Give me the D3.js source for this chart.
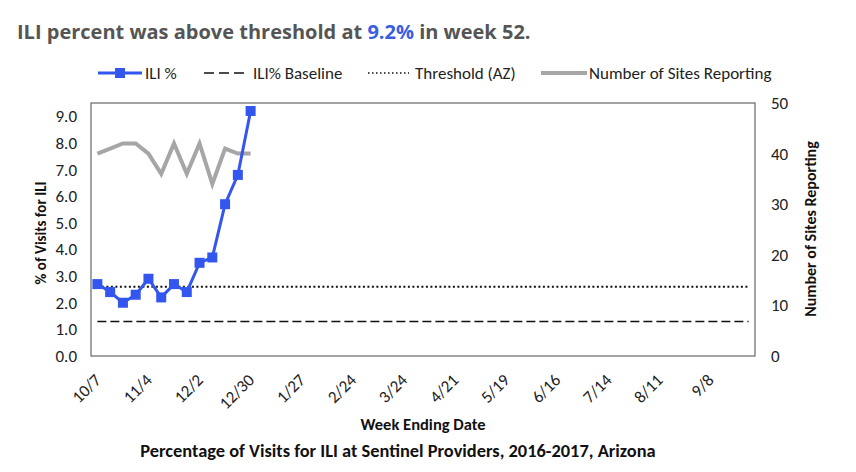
<!DOCTYPE html>
<html>
<head>
<meta charset="utf-8">
<script src="https://cdn.jsdelivr.net/npm/d3@7"></script>
<style>
  body { margin: 0; background: #fff; }
  .tick text { font-family: Carlito, "Liberation Sans Narrow", "Noto Sans", sans-serif; font-size: 17px; fill: #222; }
  .lbl { font-family: Carlito, "Liberation Sans Narrow", "Noto Sans", sans-serif; font-weight: bold; fill: #111; }
  .leg { font-family: Carlito, "Liberation Sans Narrow", "Noto Sans", sans-serif; font-size: 17px; fill: #222; }
</style>
</head>
<body>
<svg id="chart" width="856" height="472"></svg>
<script>
const weeks = ["10/7","10/14","10/21","10/28","11/4","11/11","11/18","11/25","12/2","12/9","12/16","12/23","12/30",
  "1/6","1/13","1/20","1/27","2/3","2/10","2/17","2/24","3/3","3/10","3/17","3/24","3/31","4/7","4/14","4/21","4/28",
  "5/5","5/12","5/19","5/26","6/2","6/9","6/16","6/23","6/30","7/7","7/14","7/21","7/28","8/4","8/11","8/18","8/25",
  "9/1","9/8","9/15","9/22","9/29"]
const tickWeeks = ["10/7","11/4","12/2","12/30","1/27","2/24","3/24","4/21","5/19","6/16","7/14","8/11","9/8"]
const iliPct = [2.7, 2.4, 2.0, 2.3, 2.9, 2.2, 2.7, 2.4, 3.5, 3.7, 5.7, 6.8, 9.2]
const sitesReporting = [40, 41, 42, 42, 40, 36, 42, 36, 42, 34, 41, 40, 40]
const baseline = 1.3
const threshold = 2.6
const leftTicks = [0,1,2,3,4,5,6,7,8,9]
const rightTicks = [0,10,20,30,40,50]

const svg = d3.select("#chart")
const box = {l: 91, r: 755, t: 103, b: 356}

const x = d3.scalePoint().domain(weeks).range([box.l, box.r]).padding(0.5)
const y = d3.scaleLinear().domain([0, 9.5]).range([box.b, box.t])
const y2 = d3.scaleLinear().domain([0, 50]).range([box.b, box.t])

// title
const title = svg.append("text")
  .attr("x", 17).attr("y", 39)
  .style("font-family", "'Open Sans', sans-serif")
  .style("font-weight", "bold").style("font-size", "20px")
  .attr("fill", "#555")
title.append("tspan").text("ILI percent was above threshold at ")
title.append("tspan").attr("fill", "#3a5ee0").text("9.2%")
title.append("tspan").text(" in week 52.")

// plot frame
svg.append("rect")
  .attr("x", box.l).attr("y", box.t)
  .attr("width", box.r - box.l).attr("height", box.b - box.t)
  .attr("fill", "none").attr("stroke", "#666").attr("stroke-width", 1.2)

// axes
const axL = svg.append("g").attr("transform", `translate(${box.l},0)`)
  .call(d3.axisLeft(y).tickValues(leftTicks).tickFormat(d3.format(".1f")).tickSize(0).tickPadding(14))
axL.select(".domain").remove()

const axR = svg.append("g").attr("transform", `translate(${box.r},0)`)
  .call(d3.axisRight(y2).tickValues(rightTicks).tickSize(0).tickPadding(16))
axR.select(".domain").remove()

const axB = svg.append("g").attr("transform", `translate(0,${box.b})`)
  .call(d3.axisBottom(x).tickValues(tickWeeks).tickSize(0))
axB.select(".domain").remove()
axB.selectAll("text")
  .attr("text-anchor", "end")
  .attr("dy", 0)
  .attr("transform", "translate(2,23) rotate(-45)")

// axis titles
svg.append("text").attr("class", "lbl")
  .attr("transform", "translate(46,233) rotate(-90)")
  .attr("text-anchor", "middle").style("font-size", "15px")
  .text("% of Visits for ILI")
svg.append("text").attr("class", "lbl")
  .attr("transform", "translate(816,229) rotate(-90)")
  .attr("text-anchor", "middle").style("font-size", "16px")
  .text("Number of Sites Reporting")
svg.append("text").attr("class", "lbl")
  .attr("x", 423).attr("y", 430)
  .attr("text-anchor", "middle").style("font-size", "16.5px")
  .text("Week Ending Date")
svg.append("text").attr("class", "lbl")
  .attr("x", 398).attr("y", 457)
  .attr("text-anchor", "middle").style("font-size", "18.4px")
  .text("Percentage of Visits for ILI at Sentinel Providers, 2016-2017, Arizona")

// reference lines
const first = weeks[0], last = weeks[weeks.length - 1]
svg.append("line")
  .attr("x1", x(first)).attr("x2", x(last))
  .attr("y1", y(baseline)).attr("y2", y(baseline))
  .attr("stroke", "#111").attr("stroke-width", 1.5).attr("stroke-dasharray", "9,4")
svg.append("line")
  .attr("x1", x(first)).attr("x2", x(last))
  .attr("y1", y(threshold)).attr("y2", y(threshold))
  .attr("stroke", "#111").attr("stroke-width", 2).attr("stroke-dasharray", "2,2.5")

// sites reporting
svg.append("path")
  .datum(sitesReporting)
  .attr("d", d3.line().x((d, i) => x(weeks[i])).y(d => y2(d)))
  .attr("fill", "none").attr("stroke", "#a6a6a6").attr("stroke-width", 4)
  .attr("stroke-linejoin", "miter")

// ILI %
svg.append("path")
  .datum(iliPct)
  .attr("d", d3.line().x((d, i) => x(weeks[i])).y(d => y(d)))
  .attr("fill", "none").attr("stroke", "#3356ee").attr("stroke-width", 3)
svg.selectAll("rect.mk")
  .data(iliPct)
  .join("rect").attr("class", "mk")
  .attr("x", (d, i) => x(weeks[i]) - 5).attr("y", d => y(d) - 5)
  .attr("width", 10).attr("height", 10)
  .attr("fill", "#3356ee")

// legend
const leg = svg.append("g")
const ly = 73
leg.append("line").attr("x1", 98).attr("x2", 142).attr("y1", ly).attr("y2", ly)
  .attr("stroke", "#3356ee").attr("stroke-width", 3)
leg.append("rect").attr("x", 115).attr("y", ly - 5).attr("width", 10).attr("height", 10).attr("fill", "#3356ee")
leg.append("text").attr("class", "leg").attr("x", 145).attr("y", ly + 6).text("ILI %")
leg.append("line").attr("x1", 204).attr("x2", 248).attr("y1", ly).attr("y2", ly)
  .attr("stroke", "#111").attr("stroke-width", 1.5).attr("stroke-dasharray", "10,5")
leg.append("text").attr("class", "leg").attr("x", 253).attr("y", ly + 6).text("ILI% Baseline")
leg.append("line").attr("x1", 368).attr("x2", 409).attr("y1", ly).attr("y2", ly)
  .attr("stroke", "#111").attr("stroke-width", 1.5).attr("stroke-dasharray", "1.5,2.5")
leg.append("text").attr("class", "leg").attr("x", 415).attr("y", ly + 6).text("Threshold (AZ)")
leg.append("line").attr("x1", 541).attr("x2", 587).attr("y1", ly).attr("y2", ly)
  .attr("stroke", "#a6a6a6").attr("stroke-width", 4)
leg.append("text").attr("class", "leg").attr("x", 589).attr("y", ly + 6).text("Number of Sites Reporting")
</script>
</body>
</html>
